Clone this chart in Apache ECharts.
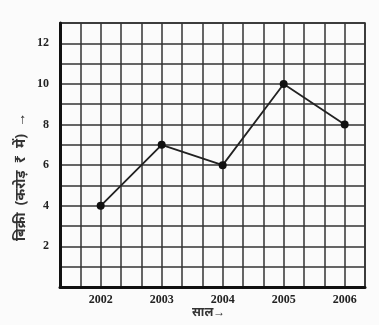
<!DOCTYPE html>
<html><head><meta charset="utf-8">
<script src="https://cdn.jsdelivr.net/npm/echarts@6/dist/echarts.min.js"></script>
<style>html,body{margin:0;padding:0;background:#fbfbfb}#c{width:379px;height:325px}</style>
</head><body><div id="c"></div>
<script>
const years = [2002, 2003, 2004, 2005, 2006];
const sales = [4, 7, 6, 10, 8];
const yTicks = [2, 4, 6, 8, 10, 12];
const xTitle = 'साल→';
const yTitle = 'बिक्री  (करोड़  ₹  में)  →';

// each year spans 3 grid columns; first year sits on column 2
const colOf = y => (y - years[0]) * 3 + 2;
const yearOfCol = c => (c - 2) % 3 === 0 ? String(years[0] + (c - 2) / 3) : '';

const chart = echarts.init(document.getElementById('c'));
chart.setOption({
  backgroundColor: '#fbfbfb',
  animation: false,
  grid: {left: 60, right: 14, top: 23, bottom: 38, show: true, borderColor: '#222', borderWidth: 1.5},
  xAxis: {
    type: 'value', min: 0, max: 15, interval: 1,
    axisLine: {show: true, onZero: false, lineStyle: {color: '#111', width: 3}},
    axisTick: {show: false},
    splitLine: {show: true, lineStyle: {color: '#333', width: 1.5}},
    axisLabel: {formatter: v => yearOfCol(v), color: '#222', fontFamily: 'Liberation Serif', fontWeight: 'bold', fontSize: 12, margin: 7, showMinLabel: true, showMaxLabel: true}
  },
  yAxis: {
    type: 'value', min: 0, max: 13, interval: 1,
    axisLine: {show: true, lineStyle: {color: '#111', width: 3}},
    axisTick: {show: false},
    splitLine: {show: true, lineStyle: {color: '#333', width: 1.5}},
    axisLabel: {formatter: v => yTicks.includes(v) ? String(v) : '', color: '#222', fontFamily: 'Liberation Serif', fontWeight: 'bold', fontSize: 12, margin: 11}
  },
  graphic: [
    {type: 'text', left: 192, top: 307, style: {text: xTitle, font: 'bold 12px "Noto Sans", sans-serif', fill: '#333'}},
    {type: 'text', x: 14, y: 241, rotation: Math.PI / 2, style: {text: yTitle, font: 'bold 14px "Noto Sans", sans-serif', fill: '#333'}}
  ],
  series: [{
    type: 'line',
    data: years.map((y, i) => [colOf(y), sales[i]]),
    symbol: 'circle', symbolSize: 8,
    itemStyle: {color: '#111'},
    lineStyle: {color: '#222', width: 1.8}
  }]
});
</script></body></html>
